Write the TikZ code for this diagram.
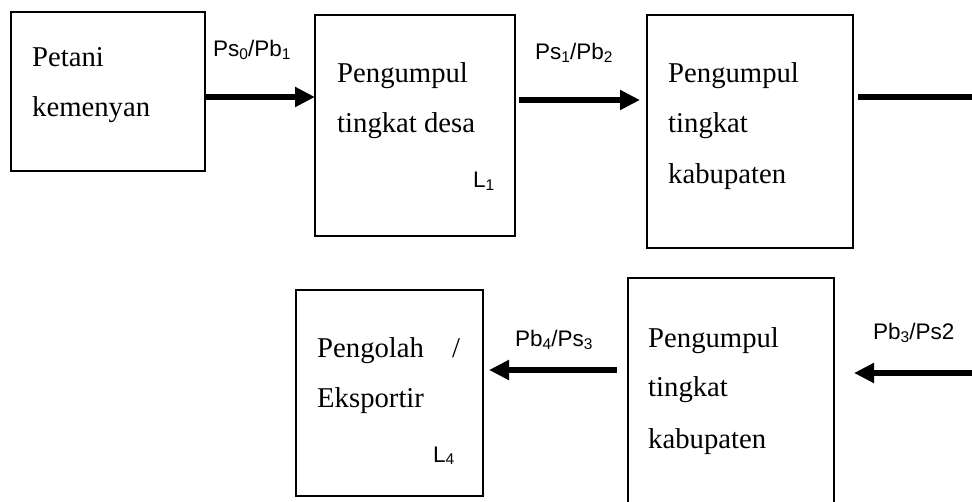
\documentclass[tikz,border=0pt]{standalone}
\usepackage{fontspec}
\setmainfont{Liberation Serif}
\newfontfamily\labfont{Liberation Sans}
\usetikzlibrary{arrows.meta}
\newcommand\lowsub[1]{\raisebox{-0.12em}{\fontsize{15.5}{16}\selectfont #1}}
\tikzset{
  box/.style={draw, line width=1.3pt, rectangle, inner sep=0pt, outer sep=0pt, anchor=north west},
  boxtxt/.style={anchor=base west, inner sep=0pt, font=\fontsize{28.7}{30}\selectfont},
  lab/.style={anchor=base west, inner sep=0pt, font=\labfont\fontsize{22.5}{24}\selectfont},
  arr/.style={line width=6pt, -{Triangle[length=20pt,width=19pt]}},
  bar/.style={line width=6pt}
}
\begin{document}
\begin{tikzpicture}[x=1pt,y=-1pt]
\useasboundingbox (0,0) rectangle (972,502);
\clip (0,0) rectangle (972,502);
% boxes
\node[box, minimum width=194pt, minimum height=159pt] (b1) at (11,12) {};
\node[box, minimum width=200pt, minimum height=221pt] (b2) at (315,15) {};
\node[box, minimum width=206pt, minimum height=233pt] (b3) at (647,15) {};
\node[box, minimum width=187pt, minimum height=206pt] (b4) at (296,290) {};
\node[box, minimum width=206pt, minimum height=240pt] (b5) at (628,278) {};
% box texts
\node[boxtxt] (t1a) at (32,67) {Petani};
\node[boxtxt] (t1b) at (32,117) {kemenyan};
\node[boxtxt] (t2a) at (337,83) {Pengumpul};
\node[boxtxt] (t2b) at (337,133) {tingkat desa};
\node[lab] (l1) at (473,188) {L\lowsub{1}};
\node[boxtxt] (t3a) at (668,83) {Pengumpul};
\node[boxtxt] (t3b) at (668,133) {tingkat};
\node[boxtxt] (t3c) at (668,184) {kabupaten};
\node[boxtxt] (t4a) at (317,358) {Pengolah};
\node[boxtxt] (t4s) at (452,358) {/};
\node[boxtxt] (t4b) at (317,408) {Eksportir};
\node[lab] (l4) at (433,462) {L\lowsub{4}};
\node[boxtxt] (t5a) at (648,348) {Pengumpul};
\node[boxtxt] (t5b) at (648,397) {tingkat};
\node[boxtxt] (t5c) at (648,448) {kabupaten};
% arrow labels
\node[lab] (p1) at (213,57) {Ps\lowsub{0}/Pb\lowsub{1}};
\node[lab] (p2) at (535,60) {Ps\lowsub{1}/Pb\lowsub{2}};
\node[lab] (p3) at (873,340) {Pb\lowsub{3}/Ps2};
\node[lab] (p4) at (515,347) {Pb\lowsub{4}/Ps\lowsub{3}};
% connectors
\coordinate (r1) at (980,97);
\coordinate (r2) at (980,373);
\draw[arr] (b1.east |- 0,97) -- (b2.west |- 0,97);
\draw[arr] ([xshift=4pt]b2.east |- 0,100) -- ([xshift=-7pt]b3.west |- 0,100);
\draw[bar] ([xshift=5pt]b3.east |- 0,97) -- (r1);
\draw[arr] (r2) -- ([xshift=20pt]b5.east |- 0,373);
\draw[arr] ([xshift=-11pt]b5.west |- 0,370) -- ([xshift=6pt]b4.east |- 0,370);
\end{tikzpicture}
\end{document}
